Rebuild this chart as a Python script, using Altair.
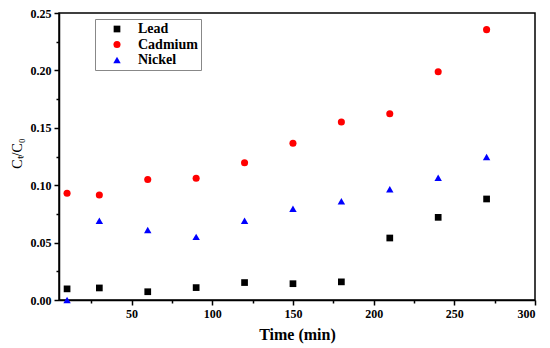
import altair as alt
import pandas as pd

times = [10, 30, 60, 90, 120, 150, 180, 210, 240, 270]
lead = [0.0097, 0.0105, 0.0072, 0.0108, 0.0152, 0.0142, 0.0158, 0.054, 0.072, 0.088]
cadmium = [0.093, 0.0915, 0.105, 0.106, 0.1195, 0.1365, 0.155, 0.1622, 0.1988, 0.2355]
nickel = [0.000, 0.069, 0.061, 0.055, 0.069, 0.0795, 0.086, 0.0965, 0.1065, 0.1245]
series = ["Lead", "Cadmium", "Nickel"]
colors = ["#000000", "#ff0000", "#0000ff"]
shapes = ["square", "circle", "triangle-up"]
sizes = [45, 55, 65]
x_ticks = list(range(25, 301, 25))
y_ticks = [round(i * 0.025, 3) for i in range(11)]

rows = []
for name, vals in zip(series, [lead, cadmium, nickel]):
    for t, v in zip(times, vals):
        rows.append({"Time": t, "Value": v, "Metal": name})
df = pd.DataFrame(rows)

FONT = "Liberation Serif"

chart = alt.Chart(df).mark_point(filled=True, opacity=1).encode(
    x=alt.X("Time:Q",
            scale=alt.Scale(domain=[5, 300], nice=False, zero=False),
            axis=alt.Axis(values=x_ticks, title="Time (min)",
                          labelExpr="datum.value % 50 == 0 ? datum.label : ''",
                          tickSize={"condition": {"test": "datum.value % 50 != 0", "value": 3}, "value": 5},
                          labelPadding=3, titlePadding=7, grid=False)),
    y=alt.Y("Value:Q",
            scale=alt.Scale(domain=[0, 0.25], nice=False),
            axis=alt.Axis(values=y_ticks, title="Cₜ/C₀", format=".2f",
                          labelExpr="round(datum.value * 1000) % 50 == 0 ? datum.label : ''",
                          tickSize={"condition": {"test": "round(datum.value * 1000) % 50 != 0", "value": 3}, "value": 5},
                          labelPadding=3, titleX=-38, titleY=140, titleAngle=-90,
                          titleBaseline="alphabetic",
                          titleFontWeight="normal", titleFontSize=14, grid=False)),
    color=alt.Color("Metal:N", sort=series,
                    scale=alt.Scale(domain=series, range=colors),
                    legend=alt.Legend(title=None, orient="none", legendX=36, legendY=6,
                                      strokeColor="#888888", padding=3, symbolOffset=12,
                                      labelFont=FONT, labelFontWeight="bold", labelFontSize=14,
                                      labelOffset=14, rowPadding=1.5, symbolSize=50,
                                      fillColor="white")),
    shape=alt.Shape("Metal:N", sort=series,
                    scale=alt.Scale(domain=series, range=shapes)),
    size=alt.Size("Metal:N", sort=series,
                  scale=alt.Scale(domain=series, range=sizes), legend=None),
).properties(
    width=476, height=287,
    autosize=alt.AutoSizeParams(type="none"),
    padding={"left": 51, "top": 5, "right": 7, "bottom": 46},
).configure_view(
    stroke="#000000", strokeWidth=1.5
).configure_axis(
    domainColor="#000000", domainWidth=1.5, tickColor="#000000", tickWidth=1.5,
    labelFont=FONT, labelFontWeight="bold", labelFontSize=12, labelColor="#000000",
    titleFont=FONT, titleFontWeight="bold", titleFontSize=16, titleColor="#000000",
)

chart.save("out.html", embed_options={"renderer": "svg", "actions": False})
